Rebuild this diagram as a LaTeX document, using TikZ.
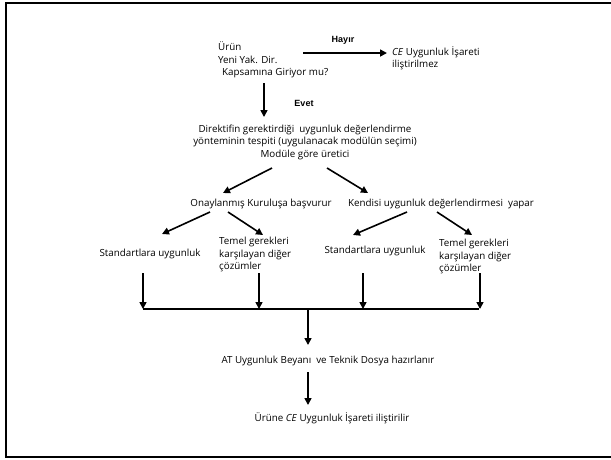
\documentclass[tikz,border=0pt]{standalone}
\usepackage{fontspec}
\setmainfont{Open Sans}
\newfontfamily\hfont{Liberation Sans}
\usetikzlibrary{calc,arrows.meta}

\begin{document}
\begin{tikzpicture}[x=1pt,y=-1pt,
  txt/.style={inner sep=0pt,font=\fontsize{9.8}{12.5}\selectfont},
  lab/.style={inner sep=0pt,font=\hfont\bfseries\fontsize{9}{11}\selectfont},
  arr/.style={line width=1.6pt,-{Triangle[length=7pt,width=7pt]}}]
\useasboundingbox (0,0) rectangle (611,459);
\draw[line width=2pt] (611,3) -- (6,3) -- (6,457) -- (611,457);

\node[txt,anchor=west,align=left] (q) at (218,60) {Ürün\\Yeni Yak. Dir.\\\hspace{4pt}Kapsamına Giriyor mu?};
\node[txt,anchor=west,align=left] (no) at (392,58.5) {\textit{CE} Uygunluk İşareti\\iliştirilmez};
\node[lab] (hayir) at (343,40) {Hayır};
\node[lab] (evet) at (304,103) {Evet};
\node[txt,align=center] (dir) at (305,142) {Direktifin gerektirdiği\ \ uygunluk değerlendirme\\yönteminin tespiti (uygulanacak modülün seçimi)\\Modüle göre üretici};
\node[txt] (nb) at (261,204) {Onaylanmış Kuruluşa başvurur};
\node[txt] (kd) at (441,204) {Kendisi uygunluk değerlendirmesi\ \ yapar};
\node[txt] (s1) at (150,254) {Standartlara uygunluk};
\node[txt,anchor=west,align=left] (t1) at (219,254.5) {Temel gerekleri\\karşılayan diğer\\çözümler};
\node[txt] (s2) at (375,251) {Standartlara uygunluk};
\node[txt,anchor=west,align=left] (t2) at (439,256.5) {Temel gerekleri\\karşılayan diğer\\çözümler};
\node[txt] (at) at (328,361) {AT Uygunluk Beyanı\ \ ve Teknik Dosya hazırlanır};
\node[txt] (ce) at (332,418) {Ürüne \textit{CE} Uygunluk İşareti iliştirilir};

\coordinate (bl) at (143,309);
\coordinate (br) at (479,309);

\draw[arr] ($(q.west)+(85,-7)$) -- ($(no.west)+(-5,-5.5)$);
\draw[arr] ($(q.west)+(46,23)$) -- ($(dir)+(-41,-25)$);
\draw[arr] ($(dir)+(-33,26)$) -- ($(nb)+(-38,-11)$);
\draw[arr] ($(dir)+(22,26)$) -- ($(kd)+(-73,-11)$);
\draw[arr] ($(nb)+(-51,8)$) -- ($(s1)+(12,-20)$);
\draw[arr] ($(nb)+(-33,8)$) -- ($(t1.west)+(44,-19.5)$);
\draw[arr] ($(kd)+(-34,8)$) -- ($(s2)+(-22,-16)$);
\draw[arr] ($(kd)+(-4,8)$) -- ($(t2.west)+(33,-21.5)$);

\draw[arr] ($(s1)+(-7,19)$) coordinate (v1) -- (v1 |- bl);
\draw[arr] ($(t1.west)+(40,18.5)$) coordinate (v2) -- (v2 |- bl);
\draw[arr] ($(s2)+(-12,22)$) coordinate (v3) -- (v3 |- bl);
\draw[arr] ($(t2.west)+(41,16.5)$) coordinate (v4) -- (v4 |- bl);
\draw[line width=2.2pt] (bl) -- (br);

\draw[arr] ($(at)+(-20,-52)$) -- ($(at)+(-20,-16)$);
\draw[arr] ($(at)+(-20,11)$) -- ($(ce)+(-24,-13)$);
\end{tikzpicture}
\end{document}
